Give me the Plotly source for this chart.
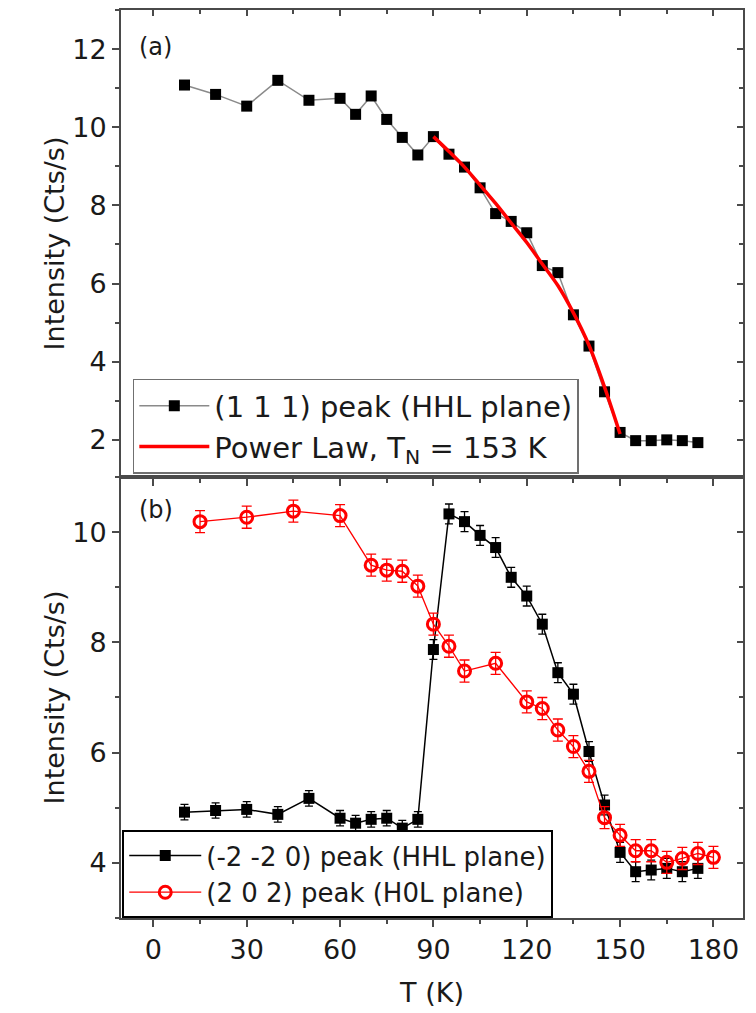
import plotly.graph_objects as go

# ---- panel (a): (1 1 1) magnetic peak, HHL plane ----
T_111 = [10, 20, 30, 40, 50, 60, 65, 70, 75, 80, 85, 90, 95, 100, 105, 110, 115,
         120, 125, 130, 135, 140, 145, 150, 155, 160, 165, 170, 175]
I_111 = [11.08, 10.84, 10.54, 11.20, 10.69, 10.74, 10.33, 10.80, 10.20, 9.74, 9.29,
         9.76, 9.31, 8.98, 8.45, 7.79, 7.59, 7.30, 6.46, 6.28, 5.20, 4.40, 3.23, 2.19,
         1.98, 1.98, 2.00, 1.98, 1.93]
E_111 = [0.10] * len(T_111)

# power-law fit curve, T_N = 153 K
T_fit = [90, 95, 100, 105, 110, 115, 120, 125, 130, 135, 140, 145, 150]
I_fit = [9.76, 9.38, 8.98, 8.52, 8.05, 7.55, 7.05, 6.50, 5.95, 5.25, 4.42, 3.35, 2.15]

# ---- panel (b) ----
T_220 = [10, 20, 30, 40, 50, 60, 65, 70, 75, 80, 85, 90, 95, 100, 105, 110, 115,
         120, 125, 130, 135, 140, 145, 150, 155, 160, 165, 170, 175]
I_220 = [4.92, 4.95, 4.97, 4.88, 5.17, 4.81, 4.72, 4.79, 4.81, 4.63, 4.79, 7.87,
         10.33, 10.19, 9.94, 9.72, 9.18, 8.84, 8.33, 7.45, 7.06, 6.02, 5.05, 4.19,
         3.84, 3.87, 3.90, 3.84, 3.90]
E_220 = [0.14] * 11 + [0.18] * 18

T_202 = [15, 30, 45, 60, 70, 75, 80, 85, 90, 95, 100, 110, 120, 125, 130, 135, 140,
         145, 150, 155, 160, 165, 170, 175, 180]
I_202 = [10.19, 10.27, 10.38, 10.30, 9.40, 9.31, 9.29, 9.02, 8.33, 7.93, 7.48, 7.62,
         6.92, 6.80, 6.41, 6.11, 5.66, 4.82, 4.50, 4.22, 4.22, 4.01, 4.08, 4.17, 4.10]
E_202 = [0.20] * len(T_202)

X_RANGE = [-10.4, 189.5]
Y_RANGE_A = [1.05, 13.0]
Y_RANGE_B = [3.0, 11.0]
FONT = "DejaVu Sans, Liberation Sans, Arial, sans-serif"
AX_COLOR = "#4a4a4a"
TXT = "#1a1a1a"

fig = go.Figure()

fig.add_trace(go.Scatter(
    x=T_111, y=I_111, mode="lines+markers", name="(1 1 1) peak (HHL plane)",
    line=dict(color="#8a8a8a", width=1.5),
    marker=dict(symbol="square", size=11, color="black"),
    error_y=dict(type="data", array=E_111, color="#555", thickness=1.2, width=3),
    xaxis="x", yaxis="y", legend="legend",
))
fig.add_trace(go.Scatter(
    x=T_fit, y=I_fit, mode="lines", name="Power Law, T<sub>N</sub> = 153 K",
    line=dict(color="#ff0000", width=3.5, shape="spline", smoothing=0.8),
    xaxis="x", yaxis="y", legend="legend",
))

fig.add_trace(go.Scatter(
    x=T_220, y=I_220, mode="lines+markers", name="(-2 -2 0) peak (HHL plane)",
    line=dict(color="black", width=1.5),
    marker=dict(symbol="square", size=11, color="black"),
    error_y=dict(type="data", array=E_220, color="black", thickness=1.3, width=4),
    xaxis="x2", yaxis="y2", legend="legend2",
))
fig.add_trace(go.Scatter(
    x=T_202, y=I_202, mode="lines+markers", name="(2 0 2) peak (H0L plane)",
    line=dict(color="#ff0000", width=1.3),
    marker=dict(symbol="circle-open", size=12, color="#ff0000",
                line=dict(width=3, color="#ff0000")),
    error_y=dict(type="data", array=E_202, color="#ff0000", thickness=1.3, width=5),
    xaxis="x2", yaxis="y2", legend="legend2",
))

# empty traces so the top/right frame axes of each panel get drawn
for xa, ya in (("x3", "y3"), ("x4", "y4")):
    fig.add_trace(go.Scatter(x=[], y=[], mode="lines", xaxis=xa, yaxis=ya,
                             showlegend=False, hoverinfo="skip"))

TOP_DOM = [0.4857, 1.0]
BOT_DOM = [0.0, 0.4857]

tickfont = dict(family=FONT, size=27, color=TXT)
titlefont = dict(family=FONT, size=27, color=TXT)
common_x = dict(range=X_RANGE, dtick=30, tick0=0, showgrid=False, zeroline=False,
                showline=True, linecolor=AX_COLOR, linewidth=2, tickcolor=AX_COLOR,
                tickwidth=1.5, tickfont=tickfont)
common_y = dict(dtick=2, tick0=0, showgrid=False, zeroline=False, showline=True,
                linecolor=AX_COLOR, linewidth=2, tickcolor=AX_COLOR, tickwidth=1.5,
                tickfont=tickfont)


def minor(direction, step):
    return dict(dtick=step, tick0=0, ticks=direction, ticklen=4, tickcolor=AX_COLOR)


fig.update_layout(
    width=756, height=1013,
    margin=dict(l=121, r=13, t=10, b=91),
    paper_bgcolor="white", plot_bgcolor="white",
    font=dict(family=FONT, color=TXT),
    xaxis=dict(**common_x, anchor="y", domain=[0, 1], ticks="outside", ticklen=7,
               showticklabels=False, minor=minor("outside", 15)),
    yaxis=dict(**common_y, domain=TOP_DOM, anchor="x", range=Y_RANGE_A,
               ticks="outside", ticklen=7, minor=minor("outside", 1),
               title=dict(text="Intensity (Cts/s)", standoff=0, font=titlefont)),
    xaxis2=dict(**common_x, anchor="y2", domain=[0, 1], ticks="outside", ticklen=7,
                minor=minor("outside", 15),
                title=dict(text="T (K)", standoff=19, font=titlefont)),
    yaxis2=dict(**common_y, domain=BOT_DOM, anchor="x2", range=Y_RANGE_B,
                ticks="outside", ticklen=7, minor=minor("outside", 1),
                title=dict(text="Intensity (Cts/s)", standoff=0, font=titlefont)),
    # top / right frame edges with inward ticks
    xaxis3=dict(**common_x, overlaying="x", anchor="y", side="top", ticks="inside",
                ticklen=6, showticklabels=False, minor=minor("inside", 15)),
    yaxis3=dict(**common_y, overlaying="y", anchor="x", side="right", range=Y_RANGE_A,
                ticks="inside", ticklen=6, showticklabels=False,
                minor=minor("inside", 1)),
    xaxis4=dict(**common_x, overlaying="x2", anchor="y2", side="top", ticks="inside",
                ticklen=6, showticklabels=False, minor=minor("inside", 15)),
    yaxis4=dict(**common_y, overlaying="y2", anchor="x2", side="right",
                range=Y_RANGE_B, ticks="inside", ticklen=6, showticklabels=False,
                minor=minor("inside", 1)),
    legend=dict(x=0.019, y=0.489, xanchor="left", yanchor="bottom",
                bgcolor="white", bordercolor="#707070", borderwidth=1.5,
                font=dict(family=FONT, size=29, color=TXT),
                itemwidth=70, tracegroupgap=0),
    legend2=dict(x=0.002, y=0.0, xanchor="left", yanchor="bottom",
                 bgcolor="white", bordercolor="black", borderwidth=2,
                 font=dict(family=FONT, size=26, color=TXT),
                 itemwidth=72, tracegroupgap=0),
    annotations=[
        dict(text="(a)", xref="x domain", yref="y domain", x=0.026, y=0.921,
             xanchor="left", yanchor="middle", showarrow=False,
             font=dict(family=FONT, size=24, color=TXT)),
        dict(text="(b)", xref="x2 domain", yref="y2 domain", x=0.026, y=0.925,
             xanchor="left", yanchor="middle", showarrow=False,
             font=dict(family=FONT, size=24, color=TXT)),
    ],
)

fig.write_html("out.html")
